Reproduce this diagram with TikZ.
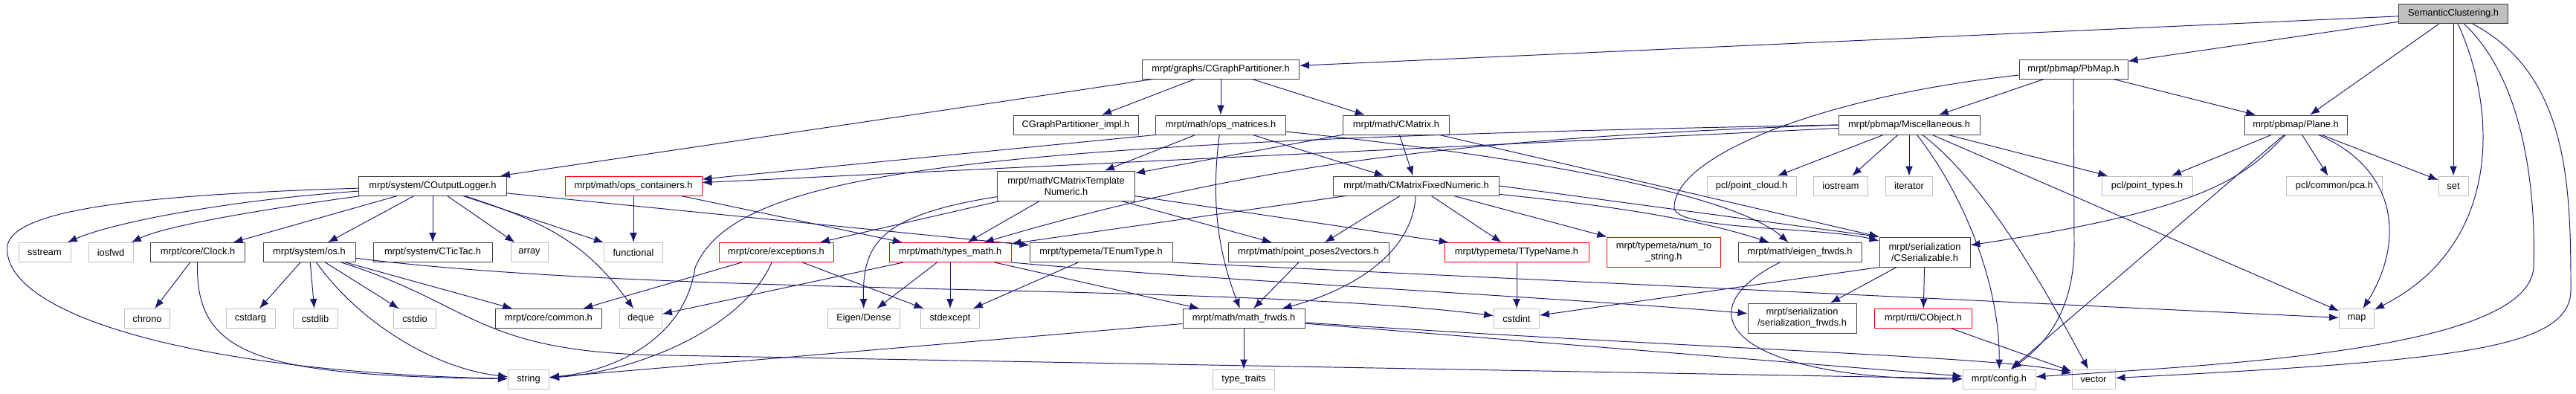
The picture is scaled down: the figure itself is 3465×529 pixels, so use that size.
\documentclass[tikz,border=0pt]{standalone}
\usepackage{fontspec}
\setmainfont{Liberation Sans}
\usetikzlibrary{arrows.meta}
\definecolor{edgeblue}{HTML}{191970}
\definecolor{boxgray}{HTML}{404040}
\definecolor{extgray}{HTML}{BFBFBF}

\begin{document}
\begin{tikzpicture}[
  x=0.02cm, y=-0.02cm,
  font=\fontsize{7.3}{8.6}\selectfont,
  box/.style={rectangle, draw=boxgray, fill=white, line width=0.55pt, minimum height=0.52cm, inner sep=1pt, align=center},
  extbox/.style={box, draw=extgray},
  redbox/.style={box, draw=red},
  rootbox/.style={box, fill=extgray},
  tall/.style={minimum height=0.8cm},
  edge/.style={draw=edgeblue, line width=0.55pt, -{Latex[length=0.26cm, width=0.2cm]}}
]
\useasboundingbox (0,0) rectangle (3465,529);

\node[rootbox, minimum width=2.94cm] (sc) at (3300,18.5) {SemanticClustering.h};

\node[box, minimum width=4.22cm] (cgp) at (1642,93) {mrpt/graphs/CGraphPartitioner.h};
\node[box, minimum width=2.92cm] (pbmap) at (2789,93) {mrpt/pbmap/PbMap.h};

\node[box, minimum width=3.36cm] (cgpimpl) at (1447,168) {CGraphPartitioner\_impl.h};
\node[box, minimum width=3.50cm] (opsmat) at (1642,168) {mrpt/math/ops\_matrices.h};
\node[box, minimum width=2.86cm] (cmatrix) at (1878,168) {mrpt/math/CMatrix.h};
\node[box, minimum width=3.80cm] (misc) at (2568,168) {mrpt/pbmap/Miscellaneous.h};
\node[box, minimum width=2.76cm] (plane) at (3088,168) {mrpt/pbmap/Plane.h};

\node[box, minimum width=3.98cm] (logger) at (582,250) {mrpt/system/COutputLogger.h};
\node[redbox, minimum width=3.68cm] (opscont) at (852,250) {mrpt/math/ops\_containers.h};
\node[box, tall, minimum width=3.70cm] (cmtn) at (1434,250) {mrpt/math/CMatrixTemplate\\Numeric.h};
\node[box, minimum width=4.46cm] (cmfn) at (1905,250) {mrpt/math/CMatrixFixedNumeric.h};
\node[extbox, minimum width=2.40cm] (pcloud) at (2356,250) {pcl/point\_cloud.h};
\node[extbox, minimum width=1.46cm] (iostream) at (2476,250) {iostream};
\node[extbox, minimum width=1.26cm] (iterator) at (2568,250) {iterator};
\node[extbox, minimum width=2.44cm] (ptypes) at (2888,250) {pcl/point\_types.h};
\node[extbox, minimum width=2.58cm] (pca) at (3140,250) {pcl/common/pca.h};
\node[extbox, minimum width=0.80cm] (set) at (3300,250) {set};

\node[extbox, minimum width=1.40cm] (sstream) at (60,339.5) {sstream};
\node[extbox, minimum width=1.20cm] (iosfwd) at (149,339.5) {iosfwd};
\node[box, minimum width=2.54cm] (clock) at (266,339.5) {mrpt/core/Clock.h};
\node[box, minimum width=2.48cm] (os) at (416,339.5) {mrpt/system/os.h};
\node[box, minimum width=3.20cm] (tictac) at (582,339.5) {mrpt/system/CTicTac.h};
\node[extbox, minimum width=1.00cm] (array) at (712,339.5) {array};
\node[extbox, minimum width=1.58cm] (functional) at (852,339.5) {functional};
\node[redbox, minimum width=3.08cm] (exceptions) at (1044,339.5) {mrpt/core/exceptions.h};
\node[redbox, minimum width=3.28cm] (typesmath) at (1278,339.5) {mrpt/math/types\_math.h};
\node[box, minimum width=3.84cm] (tenum) at (1481,339.5) {mrpt/typemeta/TEnumType.h};
\node[box, minimum width=4.32cm] (pp2v) at (1760,339.5) {mrpt/math/point\_poses2vectors.h};
\node[redbox, minimum width=3.88cm] (ttypename) at (2040,339.5) {mrpt/typemeta/TTypeName.h};
\node[redbox, tall, minimum width=3.06cm] (num2str) at (2238,339) {mrpt/typemeta/num\_to\\\_string.h};
\node[box, minimum width=3.32cm] (eigenfw) at (2421,339.5) {mrpt/math/eigen\_frwds.h};
\node[box, tall, minimum width=2.44cm] (cserial) at (2589,339) {mrpt/serialization\\/CSerializable.h};

\node[extbox, minimum width=1.22cm] (chrono) at (198,428.5) {chrono};
\node[extbox, minimum width=1.32cm] (cstdarg) at (337,428.5) {cstdarg};
\node[extbox, minimum width=1.20cm] (cstdlib) at (424,428.5) {cstdlib};
\node[extbox, minimum width=1.14cm] (cstdio) at (558,428.5) {cstdio};
\node[box, minimum width=2.86cm] (common) at (738,428.5) {mrpt/core/common.h};
\node[extbox, minimum width=1.14cm] (deque) at (862,428.5) {deque};
\node[extbox, minimum width=1.94cm] (eigen) at (1162,428.5) {Eigen/Dense};
\node[extbox, minimum width=1.58cm] (stdexcept) at (1278,428.5) {stdexcept};
\node[box, minimum width=3.28cm] (mathfw) at (1673,428.5) {mrpt/math/math\_frwds.h};
\node[extbox, minimum width=1.22cm] (cstdint) at (2040,428.5) {cstdint};
\node[box, tall, minimum width=2.92cm] (serfw) at (2424,428) {mrpt/serialization\\/serialization\_frwds.h};
\node[redbox, minimum width=2.62cm] (cobject) at (2587,428.5) {mrpt/rtti/CObject.h};
\node[extbox, minimum width=0.94cm] (map) at (3170,428.5) {map};

\node[extbox, minimum width=1.10cm] (string) at (711,510) {string};
\node[extbox, minimum width=1.66cm] (typetraits) at (1673,510) {type\_traits};
\node[extbox, minimum width=1.96cm] (config) at (2689,510) {mrpt/config.h};
\node[extbox, minimum width=1.16cm] (vector) at (2816,510) {vector};

\draw[edge] (sc) -- (cgp);
\draw[edge] (sc) -- (pbmap);
\draw[edge] (sc) -- (plane);
\draw[edge] (sc) -- (set);
\draw[edge] (sc) .. controls (3360,150) and (3365,330) .. (map);
\draw[edge] (sc) .. controls (3408,120) and (3410,300) .. (3408,360) .. controls (3400,470) and (3000,490) .. (config);
\draw[edge] (sc) .. controls (3455,100) and (3458,250) .. (3458,390) .. controls (3458,470) and (3300,485) .. (vector);

\draw[edge] (cgp) -- (logger);
\draw[edge] (cgp) -- (cgpimpl);
\draw[edge] (cgp) -- (opsmat);
\draw[edge] (cgp) -- (cmatrix);

\draw[edge] (pbmap) -- (misc);
\draw[edge] (pbmap) -- (plane);
\draw[edge] (pbmap) -- (2790,330) .. controls (2790,430) and (2740,470) .. (config);
\draw[edge] (pbmap) .. controls (2450,130) and (2250,210) .. (2252,280) .. controls (2255,310) and (2450,305) .. (cserial);

\draw[edge] (opsmat) -- (cmtn);
\draw[edge] (opsmat) -- (cmfn);
\draw[edge] (opsmat.south west) -- (opscont);
\draw[edge] (opsmat) .. controls (1630,260) and (1635,330) .. (mathfw);
\draw[edge] (opsmat) .. controls (2050,210) and (2330,260) .. (eigenfw);

\draw[edge] (cmatrix) -- (cmtn);
\draw[edge] (cmatrix) -- (cmfn);
\draw[edge] (cmatrix) -- (cserial.north west);

\draw[edge] (misc) -- (pcloud);
\draw[edge] (misc) -- (iostream);
\draw[edge] (misc) -- (iterator);
\draw[edge] (misc) -- (ptypes);
\draw[edge] (misc) -- (map);
\draw[edge] (misc) -- (opscont);
\draw[edge] (misc.west) .. controls (2000,185) and (1700,215) .. (typesmath);
\draw[edge] (misc.west) .. controls (1300,190) and (990,230) .. (935,360) .. controls (920,460) and (820,500) .. (string);
\draw[edge] (misc) .. controls (2640,260) and (2690,380) .. (config);
\draw[edge] (misc) .. controls (2650,230) and (2720,330) .. (vector);

\draw[edge] (plane) -- (ptypes);
\draw[edge] (plane) -- (pca);
\draw[edge] (plane) -- (set);
\draw[edge] (plane) .. controls (3230,230) and (3232,330) .. (map);
\draw[edge] (plane) .. controls (3020,235) and (2980,280) .. (cserial);
\draw[edge] (plane) -- (config);

\draw[edge] (logger) .. controls (300,270) and (150,300) .. (sstream);
\draw[edge] (logger) .. controls (330,285) and (220,305) .. (iosfwd);
\draw[edge] (logger) -- (clock);
\draw[edge] (logger) -- (os);
\draw[edge] (logger) -- (tictac);
\draw[edge] (logger) -- (array);
\draw[edge] (logger) -- (functional);
\draw[edge] (logger) .. controls (740,300) and (790,330) .. (deque);
\draw[edge] (logger) -- (tenum);
\draw[edge] (logger) .. controls (200,262) and (20,280) .. (10,330) .. controls (0,420) and (250,500) .. (string);

\draw[edge] (opscont) -- (functional);
\draw[edge] (opscont) -- (typesmath);

\draw[edge] (cmtn) -- (exceptions);
\draw[edge] (cmtn) -- (typesmath);
\draw[edge] (cmtn) -- (pp2v);
\draw[edge] (cmtn) -- (ttypename);
\draw[edge] (cmtn) .. controls (1180,290) and (1160,330) .. (eigen);

\draw[edge] (cmfn) -- (typesmath);
\draw[edge] (cmfn) -- (pp2v);
\draw[edge] (cmfn) .. controls (1900,340) and (1820,390) .. (mathfw);
\draw[edge] (cmfn) -- (ttypename);
\draw[edge] (cmfn) -- (num2str);
\draw[edge] (cmfn) .. controls (2200,280) and (2300,300) .. (eigenfw);
\draw[edge] (cmfn.east) -- (cserial.north west);

\draw[edge] (clock) -- (chrono);
\draw[edge] (clock) .. controls (262,480) and (350,505) .. (string);

\draw[edge] (os) -- (cstdarg);
\draw[edge] (os) -- (cstdlib);
\draw[edge] (os) -- (cstdio);
\draw[edge] (os) -- (common);
\draw[edge] (os) .. controls (480,430) and (580,495) .. (string);
\draw[edge] (os) .. controls (900,400) and (1650,380) .. (cstdint);
\draw[edge] (os) .. controls (640,410) and (640,475) .. (900,478) -- (config);

\draw[edge] (exceptions) -- (common);
\draw[edge] (exceptions) -- (stdexcept);
\draw[edge] (exceptions) .. controls (1000,440) and (860,500) .. (string);

\draw[edge] (typesmath) -- (eigen);
\draw[edge] (typesmath) -- (stdexcept);
\draw[edge] (typesmath) -- (mathfw);
\draw[edge] (typesmath) -- (deque);
\draw[edge] (typesmath.south east) .. controls (1600,375) and (2100,400) .. (serfw);

\draw[edge] (tenum) -- (stdexcept);
\draw[edge] (tenum.south east) -- (map);

\draw[edge] (pp2v) -- (mathfw);
\draw[edge] (ttypename) -- (cstdint);

\draw[edge] (mathfw) -- (typetraits);
\draw[edge] (mathfw) -- (string);
\draw[edge] (mathfw) .. controls (2300,470) and (2700,480) .. (vector);
\draw[edge] (mathfw) -- (config);

\draw[edge] (eigenfw) .. controls (2260,420) and (2330,510) .. (config);

\draw[edge] (cserial) -- (serfw);
\draw[edge] (cserial) -- (cobject);
\draw[edge] (cserial.south west) -- (cstdint);

\draw[edge] (cobject) -- (vector);
\end{tikzpicture}
\end{document}
